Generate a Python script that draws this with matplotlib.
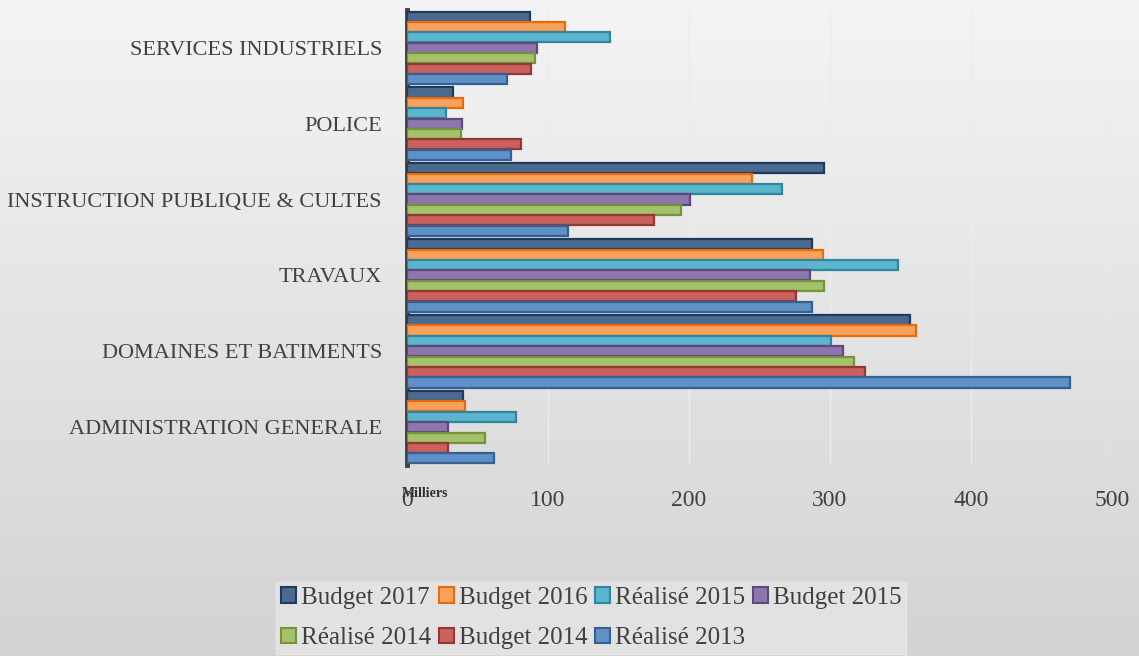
import numpy as np
import matplotlib.pyplot as plt
import matplotlib.patches as mpatches

# === DATA (en milliers) ===
categories = ['ADMINISTRATION GENERALE', 'DOMAINES ET BATIMENTS', 'TRAVAUX',
              'INSTRUCTION PUBLIQUE & CULTES', 'POLICE', 'SERVICES INDUSTRIELS']
series = ['Budget 2017', 'Budget 2016', 'Réalisé 2015', 'Budget 2015',
          'Réalisé 2014', 'Budget 2014', 'Réalisé 2013']

budget_2017 = [40, 357, 287, 296, 33, 87]
budget_2016 = [41, 361, 295, 245, 40, 112]
realise_2015 = [77, 301, 348, 266, 28, 144]
budget_2015 = [29, 309, 286, 201, 39, 92]
realise_2014 = [55, 317, 296, 194, 38, 91]
budget_2014 = [29, 325, 276, 175, 81, 88]
realise_2013 = [62, 470, 287, 114, 74, 71]

values = [budget_2017, budget_2016, realise_2015, budget_2015,
          realise_2014, budget_2014, realise_2013]

face_colors = ['#4B6A8F', '#F9A05A', '#5BB5CC', '#8C76AE', '#A3C26A', '#C9615E', '#6090C8']
edge_colors = ['#1F3B5C', '#E46C0A', '#31859C', '#5F497A', '#76923C', '#953735', '#376092']

plt.rcParams['font.family'] = 'Liberation Serif'

fig = plt.figure(figsize=(11.39, 6.56), dpi=100)

# background gradient
bg = fig.add_axes([0, 0, 1, 1], zorder=-10)
grad = np.linspace(0, 1, 256).reshape(-1, 1)
bg.imshow(grad, aspect='auto', cmap=plt.matplotlib.colors.LinearSegmentedColormap.from_list(
    'bg', ['#f4f4f4', '#d3d3d3']), extent=[0, 1, 0, 1])
bg.axis('off')

ax = fig.add_axes([0.3573, 0.291, 0.6190, 0.694])
ax.patch.set_alpha(0)

y = np.arange(len(categories))
h = 0.137
for i, (vals, fc, ec, name) in enumerate(zip(values, face_colors, edge_colors, series)):
    off = (3 - i) * h
    ax.barh(y + off, vals, height=h * 0.97, color=fc, edgecolor=ec, linewidth=1.6,
            label=name, zorder=3)

ax.set_xlim(0, 500)
ax.set_ylim(-0.5, 5.5)
ax.set_yticks(y)
ax.set_yticklabels(categories, fontsize=16, color='#404040')
ax.set_xticks([0, 100, 200, 300, 400, 500])
ax.set_xticklabels(['0', '100', '200', '300', '400', '500'], fontsize=17, color='#404040')
ax.tick_params(axis='y', length=0, pad=18)
ax.tick_params(axis='x', length=0, pad=18)
ax.xaxis.grid(True, color='#ececec', linewidth=1.0, zorder=0)
ax.set_axisbelow(True)
for s in ['top', 'right', 'bottom']:
    ax.spines[s].set_visible(False)
ax.spines['left'].set_color('#404040')
ax.spines['left'].set_linewidth(3.5)

# unit label, sits over the "0" tick as in the original
fig.text(0.353, 0.242, 'Milliers', fontsize=10, fontweight='bold', color='#303030')

order = [0, 4, 1, 5, 2, 6, 3]
handles = [mpatches.Patch(facecolor=face_colors[k], edgecolor=edge_colors[k], linewidth=1.5,
                          label=series[k]) for k in order]
leg = fig.legend(handles=handles, loc='center', bbox_to_anchor=(0.519, 0.058), ncol=4,
                 fontsize=18, frameon=True, fancybox=False, handlelength=0.6,
                 handleheight=0.6, handletextpad=0.2, columnspacing=0.3,
                 labelspacing=0.75, borderpad=0.2, borderaxespad=0)
leg.get_frame().set_facecolor('#e2e2e2')
leg.get_frame().set_edgecolor('#e6e6e6')
leg.get_frame().set_alpha(1)
for t in leg.get_texts():
    t.set_color('#404040')

fig.savefig('out.png', dpi=100)
